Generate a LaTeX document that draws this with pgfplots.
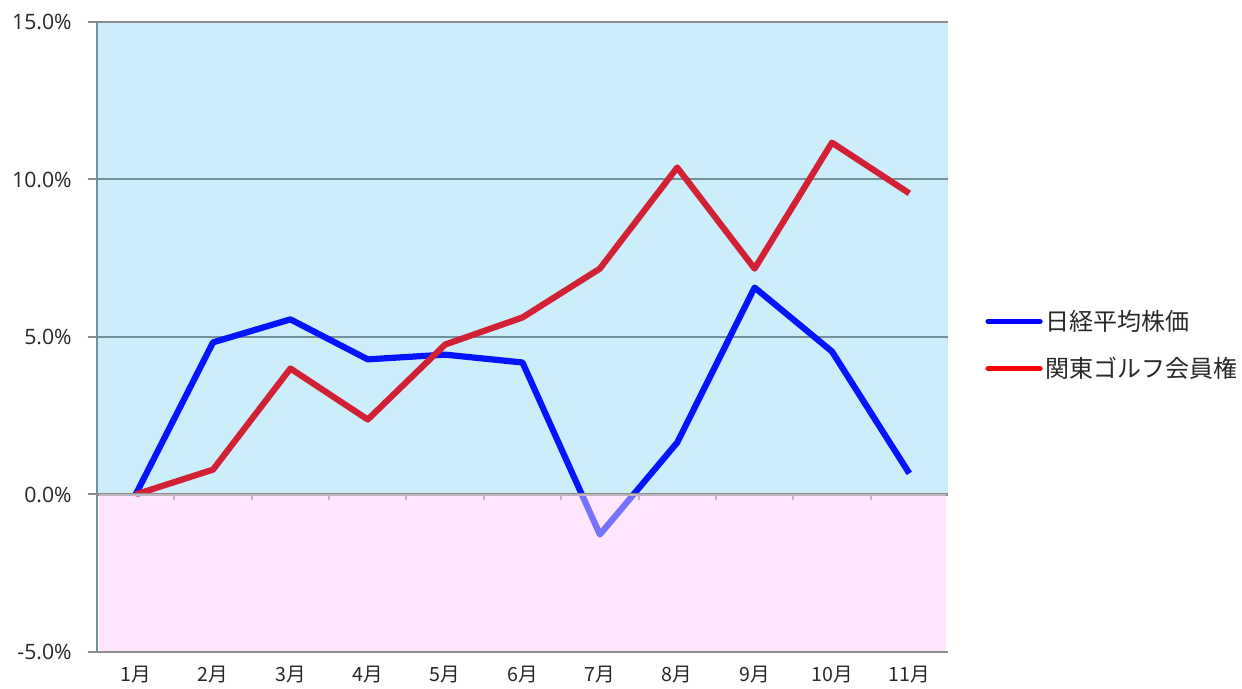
\documentclass[border=0pt]{standalone}
\usepackage{fontspec}
\setmainfont{Open Sans}
\newfontfamily\jp{Noto Sans CJK JP}
\usepackage{pgfplots}
\usepackage{pgfplotstable}
\pgfplotsset{compat=1.18}
\definecolor{bgblue}{RGB}{204,238,250}
\definecolor{bgpink}{RGB}{255,230,255}
\definecolor{gridc}{RGB}{115,145,155}
\definecolor{axc}{RGB}{140,140,140}
\definecolor{nblue}{RGB}{5,20,255}
\definecolor{kred}{RGB}{210,32,52}
\definecolor{txt}{RGB}{40,40,40}

\pgfplotstableread{
m nikkei golf
1 0 0
2 4.83 0.79
3 5.56 4.00
4 4.29 2.38
5 4.44 4.76
6 4.19 5.62
7 -1.27 7.17
8 1.65 10.38
9 6.57 7.17
10 4.54 11.17
11 0.67 9.56
}\data

\begin{document}
\begin{tikzpicture}
\begin{axis}[
  scale only axis, width=425.5bp, height=315bp,
  xmin=0.5, xmax=11.5, ymin=-5, ymax=15, clip=false,
  axis line style={draw=none}, tick style={draw=none},
  xtick={1,2,3,4,5,6,7,8,9,10,11},
  xticklabels={1月,2月,3月,4月,5月,6月,7月,8月,9月,10月,11月},
  x tick label style={font=\jp\fontsize{9.8bp}{10bp}\selectfont, text=txt, anchor=north, inner sep=0pt, yshift=-7bp},
  ytick={-5,0,5,10,15},
  yticklabels={-5.0\%,0.0\%,5.0\%,10.0\%,15.0\%},
  y tick label style={font=\fontsize{10.6bp}{11bp}\selectfont, text=txt, anchor=east, inner sep=0pt, xshift=-12.5bp},
  legend style={at={(rel axis cs:1.0435,0.487)}, anchor=west, draw=none, fill=none,
    font=\jp\fontsize{12bp}{14bp}\selectfont, text=txt, row sep=9bp, inner sep=0pt,
    nodes={inner sep=1.5bp}},
  legend cell align=left,
]
\fill[bgblue] (axis cs:0.5,0) rectangle (axis cs:11.5,15);
\fill[bgpink] (axis cs:0.52,-4.97) rectangle (axis cs:11.47,0);
\draw[gridc, line width=1bp] (axis cs:0.5,5) -- (axis cs:11.5,5);
\draw[gridc, line width=1bp] (axis cs:0.5,10) -- (axis cs:11.5,10);
\draw[axc, line width=1.2bp] (rel axis cs:-0.0106,1) -- (axis cs:11.5,15);
\draw[gridc, line width=1.2bp] (axis cs:0.5,-5) -- (axis cs:0.5,15);
\draw[axc, line width=1.2bp] (rel axis cs:-0.0106,0) -- (axis cs:11.5,-5);
\draw[axc, line width=1bp] (rel axis cs:-0.0106,0.5) -- (axis cs:0.5,5);
\draw[axc, line width=1bp] (rel axis cs:-0.0106,0.75) -- (axis cs:0.5,10);
\draw[axc, line width=1bp] (rel axis cs:-0.0106,0.25) -- (axis cs:0.5,0);
\addplot[nblue, line width=3.1bp, line join=round, mark=none,
  legend image code/.code={\draw[line width=2.6bp, line cap=round, blue] (0bp,0bp) -- (26bp,0bp);}]
  table[x=m, y=nikkei]{\data};
\addlegendentry{日経平均株価}
\addplot[kred, line width=3.1bp, line join=round, mark=none,
  legend image code/.code={\draw[line width=2.6bp, line cap=round, red] (0bp,0bp) -- (26bp,0bp);}]
  table[x=m, y=golf]{\data};
\addlegendentry{関東ゴルフ会員権}
\draw[axc, line width=1.2bp] (axis cs:0.5,0) -- (axis cs:11.5,0);
\draw[axc, line width=1bp] (axis cs:1.5,0) -- (axis cs:1.5,-0.17);
\draw[axc, line width=1bp] (axis cs:2.5,0) -- (axis cs:2.5,-0.17);
\draw[axc, line width=1bp] (axis cs:3.5,0) -- (axis cs:3.5,-0.17);
\draw[axc, line width=1bp] (axis cs:4.5,0) -- (axis cs:4.5,-0.17);
\draw[axc, line width=1bp] (axis cs:5.5,0) -- (axis cs:5.5,-0.17);
\draw[axc, line width=1bp] (axis cs:6.5,0) -- (axis cs:6.5,-0.17);
\draw[axc, line width=1bp] (axis cs:7.5,0) -- (axis cs:7.5,-0.17);
\draw[axc, line width=1bp] (axis cs:8.5,0) -- (axis cs:8.5,-0.17);
\draw[axc, line width=1bp] (axis cs:9.5,0) -- (axis cs:9.5,-0.17);
\draw[axc, line width=1bp] (axis cs:10.5,0) -- (axis cs:10.5,-0.17);
\fill[bgpink, opacity=0.45] (axis cs:0.52,-4.97) rectangle (axis cs:11.47,0);
\path (rel axis cs:-0.11398,-0.05873) rectangle (rel axis cs:1.34548,1.03492);
\end{axis}
\end{tikzpicture}
\end{document}
